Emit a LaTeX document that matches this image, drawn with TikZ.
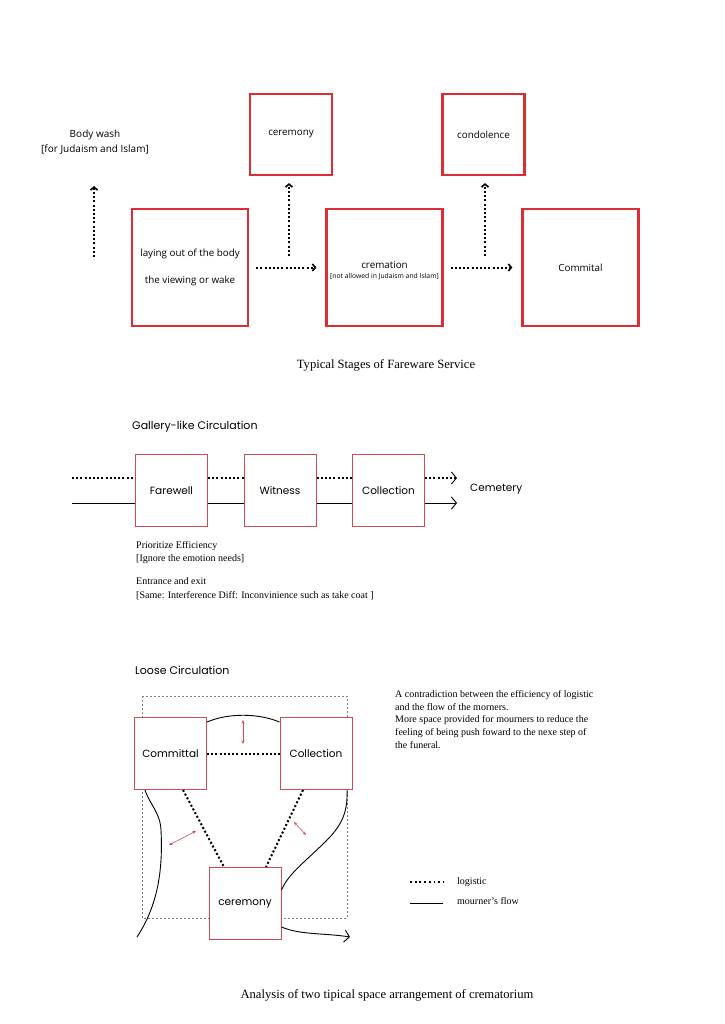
\documentclass[tikz,border=0pt]{standalone}
\usepackage{fontspec}
\setmainfont{Liberation Serif}
\newfontfamily\stagefont{Open Sans}
\newfontfamily\roomfont{Poppins}
\usetikzlibrary{arrows.meta}
\definecolor{boxred}{RGB}{220,45,55}
\definecolor{roomred}{RGB}{205,75,85}
\begin{document}
\begin{tikzpicture}[x=1pt, y=-1pt,
    stagebox/.style={draw=boxred, line width=2.2pt, fill=white, minimum width=116pt, minimum height=117pt, inner sep=0pt, align=center, font=\stagefont\fontsize{9.8}{11}\selectfont},
    talkbox/.style={stagebox, minimum width=82pt, minimum height=81pt},
    roombox/.style={draw=roomred, line width=1pt, fill=white, minimum width=72pt, minimum height=72pt, inner sep=0pt, font=\roomfont\fontsize{10.5}{12}\selectfont},
    logistic/.style={line width=2pt, dash pattern=on 2pt off 2.2pt},
    stagearrow/.style={logistic, -{Straight Barb[length=3pt, width=7pt, line width=1.6pt]}},
    flow/.style={line width=0.9pt},
    chevron/.style={-{Straight Barb[length=5pt, width=12pt, line width=0.9pt]}},
    nudge/.style={draw=roomred, line width=0.6pt, {Stealth[length=3.5pt, width=3pt]}-{Stealth[length=3.5pt, width=3pt]}},
    note/.style={font=\fontsize{10}{13.5}\selectfont, align=left, inner sep=0pt},
    heading/.style={font=\roomfont\fontsize{11}{13}\selectfont, inner sep=0pt, anchor=west},
    caption/.style={font=\fontsize{12.6}{14}\selectfont, inner sep=0pt}]
    \useasboundingbox (0,0) rectangle (724,1024);

    \node[font=\stagefont\fontsize{10}{15}\selectfont, align=center] (wash) at (95,142) {Body wash\\{[}for Judaism and Islam{]}};
    \node[stagebox] (lay) at (190,267.5) {laying out of the body\\[16pt]the viewing or wake};
    \node[talkbox] (cer) at (291,134.5) {ceremony};
    \node[stagebox] (crem) at (384.5,267.5) {\mbox{}\\[2pt]cremation\\[-1pt]{\fontsize{6.8}{8}\selectfont [not allowed in Judaism and Islam]}};
    \node[talkbox] (cond) at (483.5,134.5) {condolence};
    \node[stagebox] (comm) at (580.5,267.5) {Commital};

    \coordinate (washfoot) at (94,257);
    \coordinate (washtip) at (94,186);
    \coordinate (cerfoot) at (289,256);
    \coordinate (condfoot) at (485,256);
    \draw[stagearrow] (washfoot) -- (washtip);
    \draw[stagearrow, shorten >=7pt] (cerfoot) -- (cerfoot |- cer.south);
    \draw[stagearrow, shorten >=7pt] (condfoot) -- (condfoot |- cond.south);
    \draw[stagearrow, shorten <=7pt, shorten >=9pt] (lay) -- (crem);
    \draw[stagearrow, shorten <=7pt, shorten >=9pt] (crem) -- (comm);
    \node[caption] (stagecap) at (386,365) {Typical Stages of Fareware Service};

    \node[heading] (galtitle) at (132,427) {Gallery-like Circulation};
    \node[roombox] (fw) at (171.5,490.5) {Farewell};
    \node[roombox] (wit) at (280,490.5) {Witness};
    \node[roombox] (colg) at (388.5,490.5) {Collection};
    \node[heading, font=\roomfont\fontsize{10.5}{12}\selectfont] (cem) at (470,489) {Cemetery};
    \coordinate (galstart) at (72,490.5);
    \coordinate (galend) at (457,490.5);
    \foreach \a/\b in {galstart/fw, fw/wit, wit/colg} {
        \draw[logistic] ([yshift=12.5pt]\a.east) -- ([yshift=12.5pt]\b.west);
        \draw[flow] ([yshift=-12.5pt]\a.east) -- ([yshift=-12.5pt]\b.west);
    }
    \draw[logistic, chevron] ([yshift=12.5pt]colg.east) -- ([yshift=12.5pt]galend);
    \draw[flow, chevron] ([yshift=-12.5pt]colg.east) -- ([yshift=-12.5pt]galend);
    \node[note, anchor=north west] (galnote) at (136,541) {Prioritize Efficiency\\{[}Ignore the emotion needs{]}\\[9.5pt]Entrance and exit\\{[}Same: Interference Diff: Inconvinience such as take coat {]}};

    \node[heading] (loosetitle) at (135,670) {Loose Circulation};
    \draw[gray, line width=0.5pt, dash pattern=on 2pt off 2pt] (142,696) rectangle (347,918);
    \node[roombox] (cmt) at (170.5,753.5) {Committal};
    \node[roombox] (coll) at (316,753.5) {Collection};
    \node[roombox] (crm) at (245,903.5) {ceremony};
    \draw[logistic] (cmt) -- (coll);
    \draw[logistic] ([xshift=12.5pt]cmt.south) -- ([xshift=-21pt]crm.north);
    \draw[logistic] ([xshift=-13pt]coll.south) -- ([xshift=21pt]crm.north);
    \coordinate (leftend) at (137,937);
    \coordinate (looseend) at (350,937);
    \draw[flow] ([yshift=31.5pt]cmt.east) .. controls (228,713) and (258,713) .. ([yshift=31.5pt]coll.west);
    \draw[flow] ([xshift=-25.5pt]cmt.south) .. controls (150,805) and (160,812) .. (161,830) .. controls (163,870) and (158,905) .. (leftend);
    \draw[flow] ([xshift=31pt]coll.south) .. controls (348,815) and (340,828) .. (322,845) .. controls (300,866) and (288,875) .. ([yshift=13.5pt]crm.east);
    \draw[flow, chevron] ([yshift=-23.5pt]crm.east) .. controls (300,935) and (325,933) .. (looseend);
    \coordinate (nudgeA) at (243,720);
    \coordinate (nudgeB) at (243,744);
    \coordinate (nudgeC) at (169,845);
    \coordinate (nudgeD) at (196,831);
    \coordinate (nudgeE) at (294,822);
    \coordinate (nudgeF) at (306,835);
    \draw[nudge] (nudgeA) -- (nudgeB);
    \draw[nudge] (nudgeC) -- (nudgeD);
    \draw[nudge] (nudgeE) -- (nudgeF);
    \node[note, anchor=north west, font=\fontsize{10}{12.8}\selectfont] (loosenote) at (395,690) {A contradiction between the efficiency of logistic\\and the flow of the morners.\\More space provided for mourners to reduce the\\feeling of being push foward to the nexe step of\\the funeral.};
    \coordinate (legA) at (410,882);
    \coordinate (legB) at (443,882);
    \coordinate (legC) at (410,903);
    \coordinate (legD) at (443,903);
    \draw[logistic, line width=1.8pt, dash pattern=on 1.8pt off 2.9pt] (legA) -- (legB);
    \draw[flow] (legC) -- (legD);
    \node[note, anchor=west] (leglog) at (457,882) {logistic};
    \node[note, anchor=west] (legflow) at (457,901) {mourner’s flow};
    \node[caption] (crcap) at (387,995) {Analysis of two tipical space arrangement of crematorium};
\end{tikzpicture}
\end{document}
